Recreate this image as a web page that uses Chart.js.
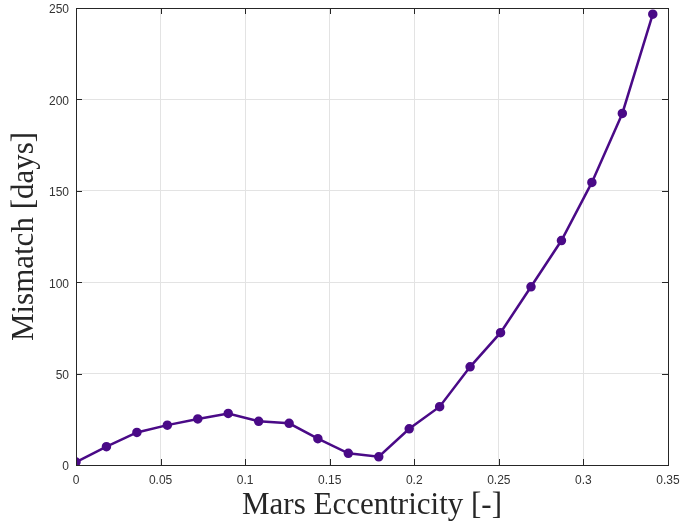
<!DOCTYPE html>
<html lang="en">
  <head>
    <meta charset="UTF-8" />
    <title>Mismatch vs Mars Eccentricity</title>
    <script src="https://cdn.jsdelivr.net/npm/chart.js@4.4.0/dist/chart.umd.min.js"></script>
    <style>
      html, body { margin: 0; padding: 0; background: #fff; }
      #wrap { width: 683px; height: 524px; }
    </style>
  </head>
  <body>
    <div id="wrap"><canvas id="myChart" width="683" height="524"></canvas></div>
    <script>
      // eccentricity sweep and resulting mismatch
      const eccentricity = [
        0, 0.018, 0.036, 0.054, 0.072, 0.09, 0.108, 0.126, 0.143, 0.161,
        0.179, 0.197, 0.215, 0.233, 0.251, 0.269, 0.287, 0.305, 0.323, 0.341,
      ];
      const mismatch = [
        1.6, 10.0, 17.8, 21.8, 25.2, 28.2, 23.9, 22.8, 14.4, 6.4,
        4.5, 19.8, 31.9, 53.7, 72.4, 97.5, 122.8, 154.6, 192.3, 246.6,
      ];
      const xTicks = [0, 0.05, 0.1, 0.15, 0.2, 0.25, 0.3, 0.35];
      const yTicks = [0, 50, 100, 150, 200, 250];

      const lineColor = "#4a0a87";
      const axisColor = "#262626";

      // matlab style box with inward ticks
      const boxPlugin = {
        id: "boxPlugin",
        afterDraw(chart) {
          const { ctx, chartArea: a, scales } = chart;
          const len = 6;
          ctx.save();
          ctx.strokeStyle = axisColor;
          ctx.lineWidth = 1;
          ctx.beginPath();
          xTicks.forEach((t) => {
            const px = Math.round(scales.x.getPixelForValue(t)) + 0.5;
            ctx.moveTo(px, a.bottom);
            ctx.lineTo(px, a.bottom - len);
            ctx.moveTo(px, a.top);
            ctx.lineTo(px, a.top + len);
          });
          yTicks.forEach((t) => {
            const py = Math.round(scales.y.getPixelForValue(t)) + 0.5;
            ctx.moveTo(a.left, py);
            ctx.lineTo(a.left + len, py);
            ctx.moveTo(a.right, py);
            ctx.lineTo(a.right - len, py);
          });
          ctx.stroke();
          ctx.strokeRect(
            Math.round(a.left) + 0.5,
            Math.round(a.top) + 0.5,
            Math.round(a.right - a.left),
            Math.round(a.bottom - a.top)
          );
          ctx.restore();
        },
      };

      const ctx = document.getElementById("myChart").getContext("2d");
      const chart = new Chart(ctx, {
        type: "line",
        data: {
          datasets: [
            {
              data: eccentricity.map((e, i) => ({ x: e, y: mismatch[i] })),
              borderColor: lineColor,
              backgroundColor: lineColor,
              borderWidth: 2.5,
              pointRadius: 3.5,
              pointHoverRadius: 3.5,
              fill: false,
              tension: 0,
            },
          ],
        },
        options: {
          responsive: false,
          animation: false,
          layout: { padding: { top: 8, right: 15, left: 0, bottom: 0 } },
          plugins: { legend: { display: false }, tooltip: { enabled: false } },
          scales: {
            x: {
              type: "linear",
              min: 0,
              max: 0.35,
              afterFit: (s) => {
                s.height = 59;
                s.paddingLeft = 0;
                s.paddingRight = 0;
              },
              afterBuildTicks: (s) => { s.ticks = xTicks.map((v) => ({ value: v })); },
              grid: { color: "#e3e3e3", drawTicks: false },
              border: { display: false },
              ticks: {
                padding: 8,
                color: "#333",
                font: { family: "Liberation Sans", size: 12 },
                callback: (v) => String(+v.toFixed(2)),
              },
              title: {
                display: true,
                text: "Mars Eccentricity [-]",
                color: axisColor,
                padding: 0,
                font: { family: "Liberation Serif", size: 31, lineHeight: 1.2 },
              },
            },
            y: {
              min: 0,
              max: 250,
              afterFit: (s) => {
                s.width = 76;
                s.paddingTop = 0;
                s.paddingBottom = 0;
              },
              afterBuildTicks: (s) => { s.ticks = yTicks.map((v) => ({ value: v })); },
              grid: { color: "#e3e3e3", drawTicks: false },
              border: { display: false },
              ticks: {
                padding: 7,
                labelOffset: 2,
                color: "#333",
                font: { family: "Liberation Sans", size: 12 },
              },
              title: {
                display: true,
                text: "Mismatch [days]",
                color: axisColor,
                padding: { top: 6, bottom: 0 },
                font: { family: "Liberation Serif", size: 31, lineHeight: 1.2 },
              },
            },
          },
        },
        plugins: [boxPlugin],
      });
    </script>
  </body>
</html>
